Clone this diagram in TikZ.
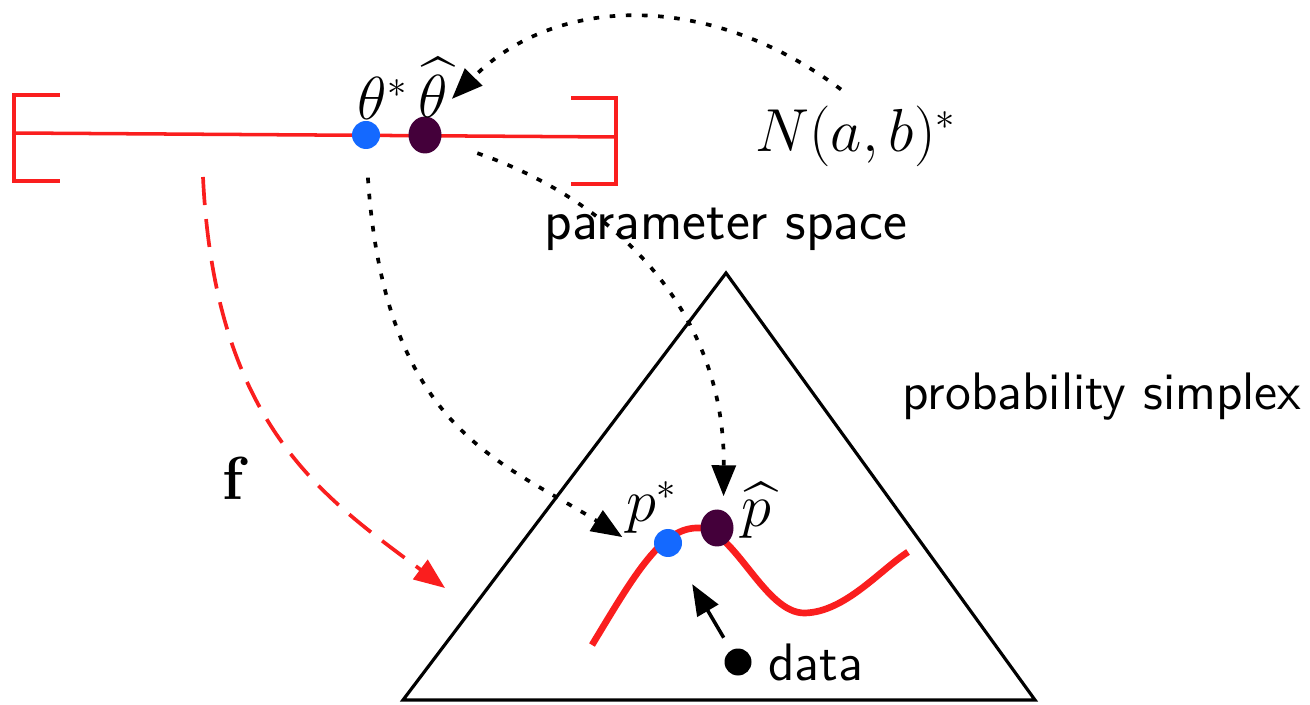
\documentclass[tikz,border=0pt]{standalone}
\usepackage{amsmath}
\usepackage{tikz}
\usetikzlibrary{arrows.meta, positioning, shapes.geometric}
\definecolor{mapred}{RGB}{250,30,30}
\definecolor{dotblue}{RGB}{20,105,255}
\definecolor{dotpurple}{RGB}{68,0,58}

\begin{document}
\begin{tikzpicture}[
  bluedot/.style={circle, fill=dotblue, inner sep=0pt, minimum size=0.28cm},
  purpledot/.style={ellipse, fill=dotpurple, inner sep=0pt, minimum width=0.33cm, minimum height=0.37cm},
  lab/.style={inner sep=1pt, font=\fontsize{16.3}{19}\selectfont},
  sflab/.style={inner sep=1pt, font=\fontsize{15}{18}\selectfont\sffamily},
  tip/.style={-{Triangle[length=8.8pt,width=6.8pt]}},
  dotlink/.style={tip, line width=1.05pt, dash pattern=on 1.6pt off 3pt},
  ]
  \useasboundingbox (0,0) rectangle (13.10,7.04);
  % parameterrum (interval)
  \draw[mapred, line width=1pt] (0.60,6.09) -- (0.14,6.09) -- (0.14,5.23) -- (0.60,5.23);
  \draw[mapred, line width=1pt] (5.71,6.06) -- (6.16,6.06) -- (6.16,5.20) -- (5.71,5.20);
  \draw[mapred, line width=1pt] (0.14,5.71) -- (6.16,5.67);
  % simplex
  \coordinate (simpleft) at (4.03,0.04);
  \coordinate (simpright) at (10.35,0.04);
  \coordinate (simptop) at (7.26,4.31);
  \draw[line width=0.9pt] (simpleft) -- (simptop) -- (simpright) -- cycle;
  % modelkurve
  \draw[mapred, line width=1.9pt] (5.92,0.59) .. controls (6.35,1.30) and (6.62,1.78) .. (7.00,1.76)
    .. controls (7.35,1.74) and (7.65,0.90) .. (8.05,0.91)
    .. controls (8.45,0.92) and (8.80,1.34) .. (9.08,1.52);
  % punkter
  \node[bluedot] (thetastar) at (3.66,5.69) {};
  \node[purpledot] (thetahat) at (4.25,5.69) {};
  \node[bluedot] (pstar) at (6.68,1.61) {};
  \node[purpledot] (phat) at (7.17,1.76) {};
  \node[circle, fill=black, inner sep=0pt, minimum size=0.27cm] (datadot) at (7.38,0.42) {};
  % tekster
  \node[lab] (thetastarlab) at (3.83,6.06) {$\theta^*$};
  \node[lab] (thetahatlab) at (4.33,6.16) {$\widehat{\theta}$};
  \node[lab] (nab) at (8.56,5.68) {$N(a,b)^*$};
  \node[lab] (pstarlab) at (6.52,1.97) {$p^*$};
  \node[lab] (phatlab) at (7.56,1.94) {$\widehat{p}$};
  \node[lab] (flab) at (2.36,2.26) {$\mathbf{f}$};
  \node[sflab, font=\fontsize{16.2}{19}\selectfont\sffamily] (paramlab) at (7.26,4.75) {parameter space};
  \node[sflab] (simplexlab) at (11.02,3.07) {probability simplex};
  \node[sflab, right=0.12cm of datadot] (datalab) {data};
  % afbildningen f
  \coordinate (fstart) at (2.03,5.27);
  \coordinate (fend) at (4.45,1.16);
  \draw[tip, mapred, line width=1.05pt, dash pattern=on 8pt off 4pt] (fstart) .. controls (2.15,2.77) and (3.25,2.06) .. (fend);
  % prikkede pile
  \draw[dotlink] ([xshift=-0.15cm, yshift=0.12cm]nab.north) .. controls (7.07,7.15) and (5.54,7.08) .. (thetahatlab.-30);
  \draw[dotlink, shorten <=0.28cm] (thetastar.south) .. controls (3.85,2.74) and (5.00,2.44) .. (pstarlab.south west);
  \draw[dotlink, shorten <=0.38cm, shorten >=0.14cm] (thetahat.-20) .. controls (6.00,5.09) and (7.25,4.04) .. (phat.70);
  % data peger mod kurven
  \draw[tip, line width=1pt, shorten <=0.14cm, shorten >=0.33cm] (datadot) -- (pstar);
\end{tikzpicture}
\end{document}
